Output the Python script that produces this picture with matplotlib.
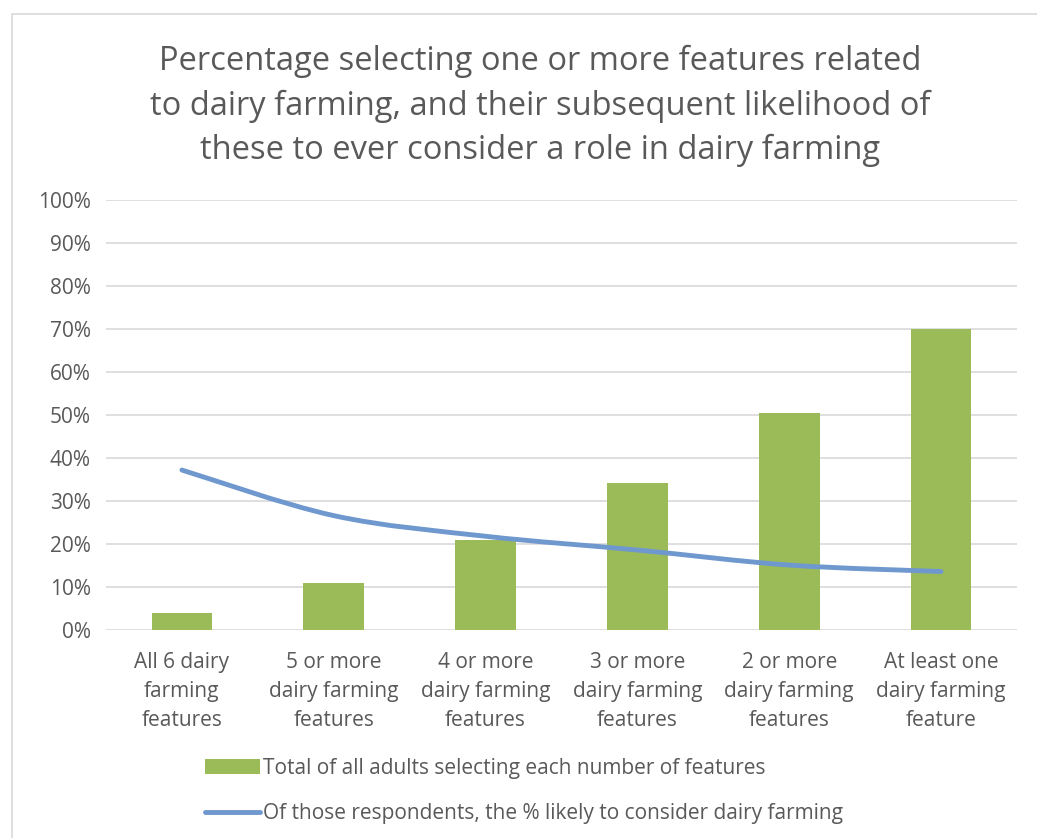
import matplotlib
matplotlib.use('Agg')
import matplotlib.pyplot as plt
import numpy as np
from matplotlib.path import Path
from matplotlib.patches import PathPatch, Rectangle
from matplotlib.lines import Line2D
from matplotlib.patches import Patch

categories = ["All 6 dairy\nfarming\nfeatures", "5 or more\ndairy farming\nfeatures",
              "4 or more\ndairy farming\nfeatures", "3 or more\ndairy farming\nfeatures",
              "2 or more\ndairy farming\nfeatures", "At least one\ndairy farming\nfeature"]
bar_values = [4.0, 11.0, 21.0, 34.3, 50.5, 70.0]
line_values = [37.2, 26.6, 21.8, 18.6, 15.1, 13.6]
bar_label = "Total of all adults selecting each number of features"
line_label = "Of those respondents, the % likely to consider dairy farming"
title = ("Percentage selecting one or more features related\n"
         "to dairy farming, and their subsequent likelihood of\n"
         "these to ever consider a role in dairy farming")

GREEN = "#9BBB59"
BLUE = "#6F98CE"
GREY = "#595959"
plt.rcParams['font.family'] = ['Open Sans', 'DejaVu Sans']

fig = plt.figure(figsize=(10.37, 8.38), dpi=100)
# outer chart border
fig.patches.append(Rectangle((12 / 1037, -0.01), 1.1, 1 - 14 / 838 + 0.01,
                             transform=fig.transFigure, fill=False,
                             edgecolor="#d9d9d9", linewidth=1.2))
fig.text(0.521, 1 - 106 / 838, title, ha="center", va="center",
         fontsize=23.5, color=GREY, linespacing=1.45)

ax = fig.add_axes([106 / 1037, 1 - 630 / 838, 911 / 1037, 430 / 838])
x = np.arange(len(categories))
ax.bar(x, bar_values, width=0.4, color=GREEN, zorder=2)

# smoothed line (Catmull-Rom style bezier through the data points)
pts = np.column_stack([x, line_values])
verts = [tuple(pts[0])]
codes = [Path.MOVETO]
for i in range(len(pts) - 1):
    p0 = pts[i - 1] if i > 0 else pts[i]
    p1, p2 = pts[i], pts[i + 1]
    p3 = pts[i + 2] if i + 2 < len(pts) else pts[i + 1]
    c1 = p1 + (p2 - p0) / 6
    c2 = p2 - (p3 - p1) / 6
    verts += [tuple(c1), tuple(c2), tuple(p2)]
    codes += [Path.CURVE4] * 3
ax.add_patch(PathPatch(Path(verts, codes), fill=False, edgecolor=BLUE,
                       linewidth=3.5, capstyle="round", zorder=3))

ax.set_xlim(-0.5, len(categories) - 0.5)
ax.set_ylim(0, 100)
ax.set_yticks(range(0, 101, 10))
ax.set_yticklabels([f"{v}%" for v in range(0, 101, 10)])
ax.set_xticks(x)
ax.set_xticklabels(categories, linespacing=1.5)
ax.tick_params(axis="both", length=0, labelsize=15, colors=GREY)
ax.tick_params(axis="x", pad=16)
ax.tick_params(axis="y", pad=11)
ax.grid(axis="y", color="#d9d9d9", linewidth=1.2, zorder=0)
for s in ax.spines.values():
    s.set_visible(False)

handles = [Patch(facecolor=GREEN, edgecolor="none"),
           Line2D([0], [0], color=BLUE, linewidth=3.5, solid_capstyle="round")]
fig.legend(handles, [bar_label, line_label], loc="center left",
           bbox_to_anchor=(197 / 1037, 1 - 791 / 838), frameon=False,
           fontsize=15, labelcolor=GREY, handlelength=2.6, handletextpad=0.15,
           labelspacing=1.15, borderaxespad=0)

fig.savefig("out.png", dpi=100, facecolor="white")
